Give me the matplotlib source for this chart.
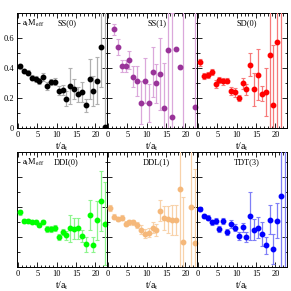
import matplotlib
matplotlib.use("Agg")
import matplotlib.pyplot as plt
from matplotlib.ticker import MultipleLocator, NullFormatter
from matplotlib.transforms import Bbox, TransformedBbox

plt.rcParams["font.family"] = ["Liberation Serif", "DejaVu Serif"]
plt.rcParams["mathtext.fontset"] = "stix"

# ---- data (effective masses per operator) ----
ss0_t = [0.5, 1.5, 2.5, 3.5, 4.5, 5.5, 6.5, 7.5, 8.5, 9.5, 10.5, 11.5, 12.5,
         13.5, 14.5, 15.5, 16.5, 17.5, 18.5, 19.5, 20.5, 21.5, 22.5]
ss0_m = [0.413, 0.38, 0.371, 0.338, 0.331, 0.316, 0.342, 0.28, 0.309, 0.311,
         0.249, 0.253, 0.195, 0.28, 0.264, 0.225, 0.242, 0.153, 0.328, 0.248,
         0.318, 0.542, 0.009]
ss0_e = [0.015, 0.015, 0.015, 0.018, 0.02, 0.02, 0.027, 0.027, 0.022, 0.023,
         0.03, 0.032, 0.05, 0.12, 0.067, 0.05, 0.067, 0.044, 0.135, 0.1,
         0.16, 0.27, 1.0]

ss1_t = [1.5, 2.5, 3.5, 4.5, 5.5, 6.5, 7.5, 8.5, 9.5, 10.5, 11.5, 12.5, 13.5,
         14.5, 15.5, 16.5, 17.5, 18.5, 19.5, 22.5]
ss1_m = [0.662, 0.542, 0.418, 0.413, 0.458, 0.344, 0.313, 0.169, 0.316, 0.169,
         0.373, 0.3, 0.362, 0.133, 0.522, 0.073, 0.529, 0.407, 0.9, 0.14]
ss1_e = [0.036, 0.056, 0.04, 0.04, 0.06, 0.07, 0.1, 0.145, 0.15, 0.128,
         0.167, 0.13, 0.24, 0.3, 0.7, 0.7, 0.01, 0.01, 1.0, 1.0]

sd0_t = [0.5, 1.5, 2.5, 3.5, 4.5, 5.5, 6.5, 7.5, 8.5, 9.5, 10.5, 11.5, 12.5,
         13.5, 14.5, 15.5, 16.5, 17.5, 18.5, 19.5, 20.5, 21.5]
sd0_m = [0.44, 0.349, 0.356, 0.376, 0.296, 0.32, 0.313, 0.318, 0.247, 0.238,
         0.202, 0.298, 0.258, 0.424, 0.258, 0.356, 0.231, 0.242, 0.487, 0.153,
         0.576, 0.9]
sd0_e = [0.022, 0.02, 0.02, 0.022, 0.025, 0.022, 0.022, 0.02, 0.025, 0.033,
         0.02, 0.04, 0.035, 0.078, 0.11, 0.17, 0.05, 0.16, 0.6, 0.4, 0.6, 1.0]

ddi0_t = [0.5, 1.5, 2.5, 3.5, 4.5, 5.5, 6.5, 7.5, 8.5, 9.5, 10.5, 11.5, 12.5,
          13.5, 14.5, 15.5, 16.5, 17.5, 18.5, 19.5, 20.5, 21.5, 22.5]
ddi0_m = [0.365, 0.309, 0.309, 0.304, 0.302, 0.28, 0.3, 0.256, 0.253, 0.258,
          0.198, 0.236, 0.211, 0.258, 0.256, 0.26, 0.207, 0.151, 0.347, 0.149,
          0.313, 0.444, 0.291]
ddi0_e = [0.015, 0.012, 0.012, 0.012, 0.012, 0.015, 0.015, 0.02, 0.02, 0.02,
          0.02, 0.02, 0.03, 0.09, 0.07, 0.07, 0.04, 0.05, 0.1, 0.05, 0.13,
          0.2, 0.28]

ddl1_t = [0.5, 1.5, 2.5, 3.5, 4.5, 5.5, 6.5, 7.5, 8.5, 9.5, 10.5, 11.5, 12.5,
          13.5, 14.5, 15.5, 16.5, 17.5, 18.5, 19.5, 21.5, 22.5]
ddl1_m = [0.396, 0.338, 0.322, 0.331, 0.291, 0.298, 0.298, 0.28, 0.251, 0.222,
          0.231, 0.264, 0.247, 0.376, 0.331, 0.32, 0.313, 0.313, 0.524, 0.169,
          0.40, 0.158]
ddl1_e = [0.02, 0.015, 0.015, 0.015, 0.015, 0.015, 0.015, 0.02, 0.03, 0.03,
          0.03, 0.035, 0.04, 0.07, 0.08, 0.09, 0.1, 0.1, 0.6, 0.3, 0.6, 0.5]

tdt3_t = [0.5, 1.5, 2.5, 3.5, 4.5, 5.5, 6.5, 7.5, 8.5, 9.5, 10.5, 11.5, 12.5,
          13.5, 14.5, 15.5, 16.5, 17.5, 18.5, 19.5, 20.5, 21.5, 22.5]
tdt3_m = [0.389, 0.34, 0.331, 0.298, 0.307, 0.253, 0.309, 0.233, 0.289, 0.264,
          0.207, 0.267, 0.202, 0.34, 0.251, 0.264, 0.218, 0.144, 0.318, 0.118,
          0.311, 0.473, 0.9]
tdt3_e = [0.015, 0.015, 0.015, 0.02, 0.02, 0.02, 0.02, 0.02, 0.025, 0.025,
          0.025, 0.03, 0.035, 0.16, 0.07, 0.07, 0.08, 0.06, 0.1, 0.1, 0.12,
          0.6, 1.0]

names = ["SS(0)", "SS(1)", "SD(0)", "DDI(0)", "DDL(1)", "TDT(3)"]
series = [(ss0_t, ss0_m, ss0_e), (ss1_t, ss1_m, ss1_e), (sd0_t, sd0_m, sd0_e),
          (ddi0_t, ddi0_m, ddi0_e), (ddl1_t, ddl1_m, ddl1_e),
          (tdt3_t, tdt3_m, tdt3_e)]
mcol = ["#000000", "#993399", "#ff0000", "#00ff00", "#f5b87a", "#0000ff"]
ecol = ["#b0b0b0", "#dba8db", "#f77a7a", "#8cf58c", "#f8d2aa", "#7f7ff7"]

W = H = 291
fig = plt.figure(figsize=(2.91, 2.91), dpi=100)

colx = [17, 107, 197]
roww = 90
rows = [(13, 128), (152, 267)]

for i, (name, (t, m, e)) in enumerate(zip(names, series)):
    r, c = divmod(i, 3)
    top, bot = rows[r]
    ax = fig.add_axes([colx[c] / W, 1 - bot / H, roww / W, (bot - top) / H])
    ax.patch.set_visible(False)
    ax.set_xlim(-0.3, 23)
    ax.set_ylim(0, 0.77)
    # clip vertically to the panel, but let points spill sideways
    clip = TransformedBbox(Bbox([[-0.5, 0], [1.5, 1]]), ax.transAxes)
    cont = ax.errorbar(t, m, yerr=e, fmt="o", ms=3.2, mfc=mcol[i],
                       mec=mcol[i], ecolor=ecol[i], elinewidth=0.9,
                       capsize=1.5, capthick=0.8, zorder=3)
    for art in cont.get_children():
        art.set_clip_box(clip)
    ax.xaxis.set_major_locator(MultipleLocator(5))
    ax.xaxis.set_minor_locator(MultipleLocator(1))
    ax.yaxis.set_major_locator(MultipleLocator(0.2))
    ax.yaxis.set_minor_locator(MultipleLocator(0.1))
    ax.tick_params(which="both", direction="in", top=True, right=True,
                   labelsize=6, pad=2, width=0.6)
    ax.tick_params(which="major", length=3.5)
    ax.tick_params(which="minor", length=1.8)
    ax.yaxis.set_major_formatter(plt.FuncFormatter(
        lambda v, p: "0" if abs(v) < 1e-9 else f"{v:.1f}"))
    if c != 0 or r == 1:
        ax.yaxis.set_major_formatter(NullFormatter())
    for s in ax.spines.values():
        s.set_linewidth(0.7)
    ax.set_xlabel(r"t/a$_{\rm t}$", fontsize=7, labelpad=1)
    ax.text(0.55, 0.91, name, transform=ax.transAxes, ha="center",
            va="center", fontsize=6)
    if c == 0:
        ax.text(0.05, 0.91, r"a$_{\rm t}$M$_{\rm eff}$", transform=ax.transAxes,
                ha="left", va="center", fontsize=6)

fig.savefig("out.png", dpi=100)
